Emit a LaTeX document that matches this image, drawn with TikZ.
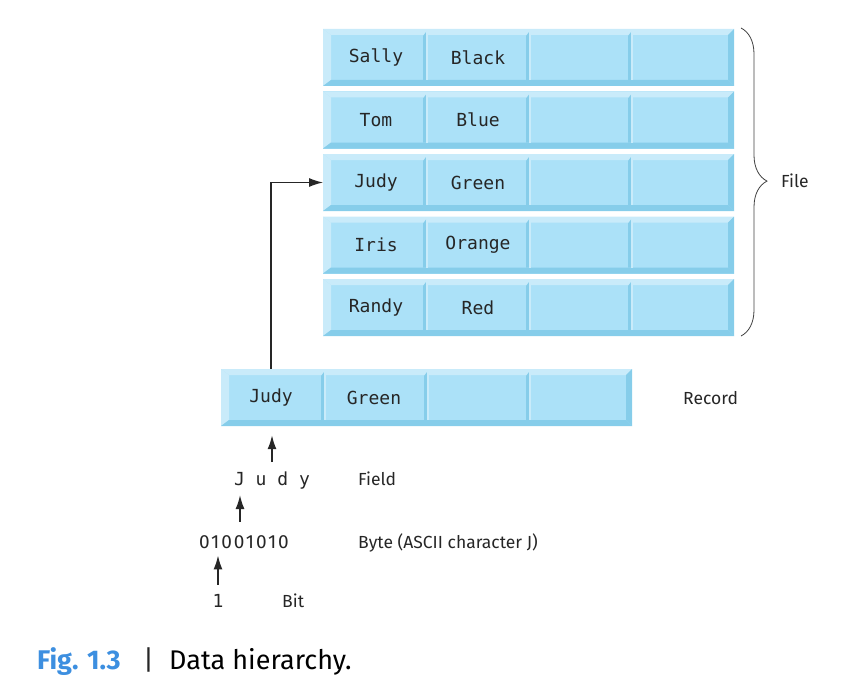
\documentclass[tikz,border=0pt]{standalone}
\usepackage{fontspec}
\setmainfont{Fira Sans}
\setmonofont{DejaVu Sans Mono}
\usetikzlibrary{arrows.meta, positioning, calc, decorations.pathreplacing}
\definecolor{TileFace}{HTML}{ABE1F8}
\definecolor{TileLite}{HTML}{C9EBFA}
\definecolor{TileDark}{HTML}{86CDEA}
\definecolor{CapBlue}{HTML}{3D8FE0}

% bevel edges and cell dividers on a row node
\newcommand{\bevelrow}[1]{%
	\fill[TileLite] (#1.north west) -- (#1.north east) -- ([shift={(-6,6)}]#1.north east) -- ([shift={(8,6)}]#1.north west) -- cycle;
	\fill[TileLite] (#1.north west) -- ([shift={(8,6)}]#1.north west) -- ([shift={(8,-6)}]#1.south west) -- (#1.south west) -- cycle;
	\fill[TileDark] (#1.south west) -- ([shift={(8,-6)}]#1.south west) -- ([shift={(-6,-6)}]#1.south east) -- (#1.south east) -- cycle;
	\fill[TileDark] (#1.north east) -- (#1.south east) -- ([shift={(-6,-6)}]#1.south east) -- ([shift={(-6,6)}]#1.north east) -- cycle;
	\foreach \d in {103,206,308}{
		\fill[TileDark] ([shift={(\d-3,7)}]#1.north west) -- ([shift={(\d,3)}]#1.north west) -- ([shift={(\d,-6)}]#1.south west) -- ([shift={(\d-3,-6)}]#1.south west) -- cycle;
		\fill[TileLite] ([shift={(\d,3)}]#1.north west) rectangle ([shift={(\d+2,-6)}]#1.south west);
	}}

\begin{document}
\begin{tikzpicture}[x=1pt, y=-1pt,
		rowbox/.style={fill=TileFace, minimum width=411pt, minimum height=57pt, inner sep=0pt, outer sep=0pt, anchor=north west},
		celltext/.style={font=\fontsize{18}{21}\selectfont\ttfamily, text=black!85, minimum height=57pt, inner sep=0pt},
		lbl/.style={font=\fontsize{17.5}{20}\selectfont, text=black!85, inner sep=0pt, anchor=base west},
		arr/.style={-{Latex[length=14pt, width=9pt]}, line width=1.6pt, black!85}]
	\useasboundingbox (0,0) rectangle (868,685);

	% file rows
	\foreach \r [count=\i] in {29,91.5,154,216.5,279}{
		\node[rowbox] (f\i) at (323,\r) {};
		\bevelrow{f\i}
	}
	\node[celltext] (sally) at ([xshift=53pt]f1.west) {Sally};
	\node[celltext] (black) at ([xshift=155pt]f1.west) {Black};
	\node[celltext] (tom) at ([xshift=53pt]f2.west) {Tom};
	\node[celltext] (blue) at ([xshift=155pt]f2.west) {Blue};
	\node[celltext] (judy) at ([xshift=53pt]f3.west) {Judy};
	\node[celltext] (green) at ([xshift=155pt]f3.west) {Green};
	\node[celltext] (iris) at ([xshift=53pt]f4.west) {Iris};
	\node[celltext] (orange) at ([xshift=155pt]f4.west) {Orange};
	\node[celltext] (randy) at ([xshift=53pt]f5.west) {Randy};
	\node[celltext] (red) at ([xshift=155pt]f5.west) {Red};

	\draw[black!75, line width=0.8pt, decorate, decoration={brace, amplitude=26pt, aspect=0.497}]
		(741,28) -- (741,336);
	\node[lbl, anchor=west] (filelbl) at (781,181) {File};

	% record
	\node[rowbox] (rec) at (221,369) {};
	\bevelrow{rec}
	\node[celltext] (recjudy) at ([xshift=50pt]rec.west) {Judy};
	\node[celltext] (recgreen) at ([xshift=153pt]rec.west) {Green};
	\node[lbl, anchor=west] (reclbl) at (683,398) {Record};

	% field, byte, bit
	\node[celltext, minimum height=0pt, anchor=base] (field) at (272,485) {J u d y};
	\node[lbl] (fieldlbl) at (358,485) {Field};
	\coordinate (fieldJ) at (240,495);
	\node[lbl, anchor=base, font=\fontsize{19}{22}\selectfont\addfontfeatures{LetterSpace=10}] (byte) at (244,548) {01001010};
	\node[lbl] (bytelbl) at (358,548) {Byte (ASCII character J)};
	\node[celltext, minimum height=0pt, anchor=base] (bit) at (218,607) {1};
	\node[lbl] (bitlbl) at (282,607) {Bit};

	\draw[arr, line width=1.3pt] (recjudy.north) |- (f3.west);
	\draw[arr, shorten <=9pt, shorten >=9pt] (field.north) -- (field.north |- recjudy.south);
	\draw[arr, shorten <=13pt] (byte.north -| fieldJ) -- (fieldJ);
	\draw[arr, shorten <=9pt, shorten >=7pt] (bit.north) -- (bit.north |- byte.south);

	% caption
	\node[lbl, font=\fontsize{27}{31}\selectfont\bfseries, text=CapBlue] (fig) at (37,669) {Fig. 1.3};
	\node[lbl, font=\fontsize{27}{31}\selectfont] (bar) at (143,669) {|};
	\node[lbl, font=\fontsize{27}{31}\selectfont, text=black] (cap) at (169,669) {Data hierarchy.};
\end{tikzpicture}
\end{document}
